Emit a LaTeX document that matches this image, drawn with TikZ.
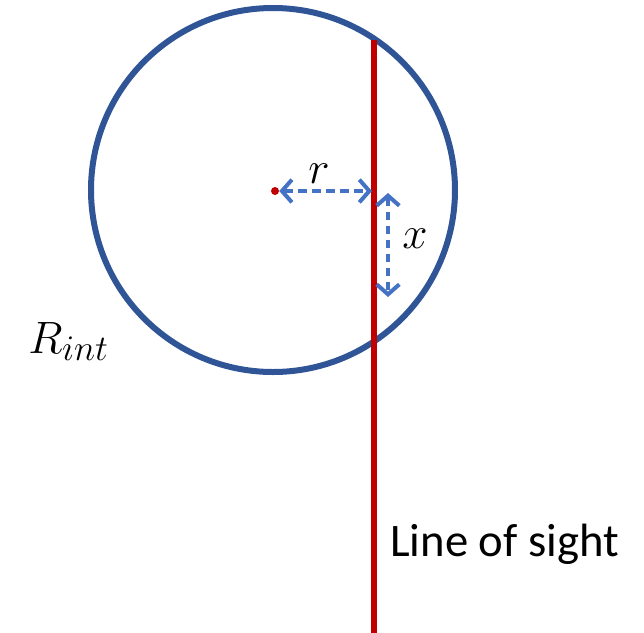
\documentclass[tikz,border=0pt]{standalone}
\usepackage{fix-cm}
\usepackage{fontspec}
\newfontfamily\calibri{Carlito}
\DeclareMathSizes{34}{34}{27}{20}
\usetikzlibrary{arrows.meta}
\definecolor{circblue}{HTML}{2F5597}
\definecolor{losred}{HTML}{C00000}
\definecolor{arrblue}{HTML}{4472C4}
\begin{document}
\begin{tikzpicture}[x=0.75pt,y=-0.75pt,
  ring/.style={draw=circblue,line width=4.5pt},
  sightline/.style={draw=losred,line width=4.5pt},
  measure/.style={draw=arrblue,line width=3pt,dash pattern=on 6.5pt off 4pt,
    {Straight Barb[length=7.5pt,width=17pt,line width=3pt]}-{Straight Barb[length=7.5pt,width=17pt,line width=3pt]}},
  mathlbl/.style={font=\fontsize{34}{40}\selectfont,inner sep=0pt}]
\useasboundingbox (0,0) rectangle (644,633);
\coordinate (c) at (273,190);
\draw[ring] (c) circle (182);
\coordinate (top) at (374,40);
\coordinate (bot) at (374,633);
\draw[sightline] (top) -- (bot);
\node[circle,fill=losred,inner sep=0pt,minimum size=6pt] (dot) at (275,191) {};
\coordinate (rend) at (372,191);
\draw[measure] (dot.east) -- (rend);
\coordinate (xa) at (388,193);
\coordinate (xb) at (388,297);
\draw[measure] (xa) -- (xb);
\node[mathlbl,anchor=base] (rl) at (319,183) {$r$};
\node[mathlbl,anchor=base] (xl) at (415,248) {$x$};
\node[mathlbl,anchor=base west] (Rl) at (28,353) {$R_{int}$};
\node[font=\calibri\fontsize{35}{40}\selectfont,inner sep=0pt,anchor=base west] (los) at (390,556) {Line of sight};
\end{tikzpicture}
\end{document}
